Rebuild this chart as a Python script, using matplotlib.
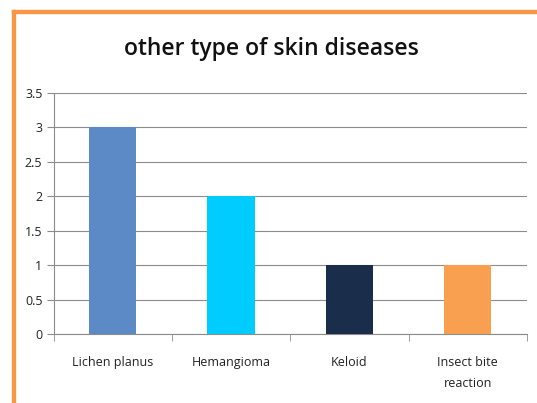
import matplotlib
matplotlib.use("Agg")
import matplotlib.pyplot as plt
from matplotlib.patches import Rectangle
import numpy as np

categories = ["Lichen planus", "Hemangioma", "Keloid", "Insect bite\nreaction"]
counts = [3, 2, 1, 1]
bar_colors = ["#5B8AC6", "#00CCFF", "#1A2E4B", "#F8A050"]
y_ticks = [0, 0.5, 1, 1.5, 2, 2.5, 3, 3.5]

plt.rcParams["font.family"] = ["Open Sans", "DejaVu Sans"]

fig = plt.figure(figsize=(5.37, 4.03), dpi=100)
W, H = 537, 403

# orange frame on top and left edge
fig.patches.append(Rectangle((12 / W, 0), 2.5 / W, (H - 10) / H, transform=fig.transFigure,
                             color="#F79646", zorder=0))
fig.patches.append(Rectangle((12 / W, (H - 12.5) / H), 1 - 12 / W, 2.5 / H,
                             transform=fig.transFigure, color="#F79646", zorder=0))

ax = fig.add_axes([53.5 / W, (H - 334) / H, (527 - 53.5) / W, (334 - 93) / H])
x = np.arange(len(categories))
ax.bar(x, counts, width=0.4, color=bar_colors, zorder=3)

ax.set_xlim(-0.5, len(categories) - 0.5)
ax.set_ylim(0, 3.5)
ax.set_yticks(y_ticks)
ax.set_yticklabels([f"{v:g}" for v in y_ticks], fontsize=9, color="#222222")
ax.yaxis.grid(True, color="#8C8C8C", linewidth=0.8, zorder=0)

ax.set_xticks(x)
ax.set_xticklabels(categories, fontsize=9, color="#222222", linespacing=1.8)
ax.set_xticks(np.arange(len(categories) + 1) - 0.5, minor=True)
ax.tick_params(axis="x", which="major", length=0, pad=16)
ax.tick_params(axis="x", which="minor", length=5, color="#8C8C8C", direction="out")
ax.tick_params(axis="y", length=5, color="#8C8C8C", pad=3)

for side in ["top", "right"]:
    ax.spines[side].set_visible(False)
for side in ["left", "bottom"]:
    ax.spines[side].set_color("#8C8C8C")
    ax.spines[side].set_linewidth(0.8)

fig.text(271 / W, (H - 49) / H, "other type of skin diseases", ha="center", va="center",
         fontsize=16.5, fontweight="semibold", color="#111111")

fig.savefig("out.png", dpi=100)
